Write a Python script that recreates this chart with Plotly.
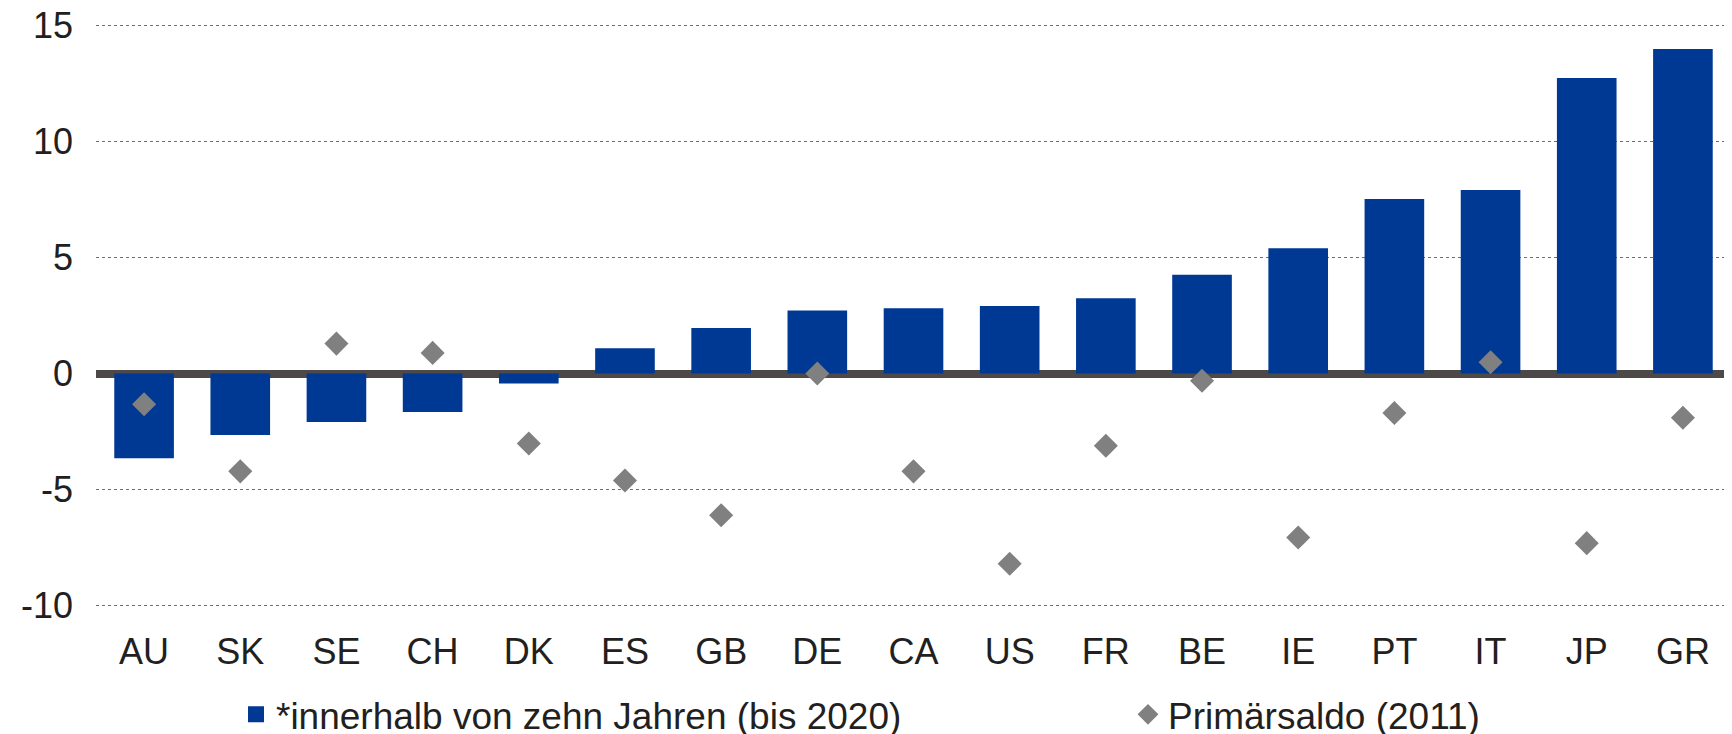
import plotly.graph_objects as go

categories = ["AU", "SK", "SE", "CH", "DK", "ES", "GB", "DE", "CA", "US",
              "FR", "BE", "IE", "PT", "IT", "JP", "GR"]
bar_values = [-3.65, -2.65, -2.08, -1.66, -0.43, 1.09, 1.96, 2.72, 2.81, 2.91,
              3.24, 4.25, 5.40, 7.52, 7.90, 12.73, 13.97]
diamond_values = [-1.32, -4.21, 1.29, 0.89, -3.01, -4.60, -6.10, 0.0, -4.21, -8.19,
                  -3.11, -0.31, -7.06, -1.70, 0.49, -7.30, -1.90]
bar_name = "*innerhalb von zehn Jahren (bis 2020)"
diamond_name = "Primärsaldo (2011)"
tick_vals = [-10, -5, 0, 5, 10, 15]
tick_text = ["-10", "-5", "0", "5", "10", "15"]

FONT = "Liberation Sans, Arial, sans-serif"
TXT = "#231f20"
BAR_COLOR = "#003994"
DIA_COLOR = "#808080"

# the page body has an 8px margin; the figure is sized to fit the window
OFF = 8
W, H = 1732 - OFF, 734 - OFF

fig = go.Figure()
fig.add_trace(go.Bar(
    x=categories, y=bar_values, name=bar_name, width=0.62,
    marker=dict(color=BAR_COLOR, line=dict(width=0)),
    showlegend=False,
))
# legend entry for the bars (larger square swatch)
fig.add_trace(go.Scatter(
    x=[None], y=[None], name=bar_name, mode="markers",
    marker=dict(symbol="square", size=16, color=BAR_COLOR, line=dict(width=0)),
    legend="legend", hoverinfo="skip",
))
fig.add_trace(go.Scatter(
    x=categories, y=diamond_values, name=diamond_name, mode="markers",
    marker=dict(symbol="diamond", size=18.5, color=DIA_COLOR, line=dict(width=0)),
    legend="legend2",
))

# plot area: x 96..1731, y (value 15 at 25px, value -10 at 606px) in window pixels
PAD = 0.05
UNIT = (606 - 25) / 25.0
pad_px = PAD * UNIT
top = 25 - OFF - pad_px
bottom = H - (606 - OFF + pad_px)
PW = 1635.0
PH = 581.0 + 2 * pad_px


def legend_y(px):
    # window pixel -> paper y (negative: below the plot area)
    return ((606 + pad_px) - px) / PH


leg_common = dict(
    orientation="h", xanchor="left", yanchor="middle",
    y=legend_y(715),
    font=dict(family=FONT, size=37, color=TXT),
    bgcolor="rgba(0,0,0,0)", borderwidth=0,
)

fig.update_layout(
    width=W, height=H,
    margin=dict(l=96 - OFF, r=1, t=top, b=bottom, autoexpand=False),
    plot_bgcolor="white", paper_bgcolor="white",
    font=dict(family=FONT, size=36, color=TXT),
    showlegend=True,
    legend=dict(x=(236 - 96) / PW, **leg_common),
    legend2=dict(x=(1128 - 96) / PW, **leg_common),
    xaxis=dict(
        type="category", range=[-0.5, len(categories) - 0.5],
        showgrid=False, showline=False, ticks="",
        tickfont=dict(family=FONT, size=36, color=TXT),
        ticklabelstandoff=20,
    ),
    yaxis=dict(
        range=[-10 - PAD, 15 + PAD], tickvals=tick_vals, ticktext=tick_text,
        showgrid=True, gridcolor="#6f6f6f", gridwidth=1, griddash="dot",
        zeroline=True, zerolinecolor="#4d4948", zerolinewidth=8,
        showline=False, ticks="",
        tickfont=dict(family=FONT, size=36, color=TXT),
        ticklabelstandoff=22, ticklabeloverflow="allow",
    ),
)

fig.write_html("out.html")
